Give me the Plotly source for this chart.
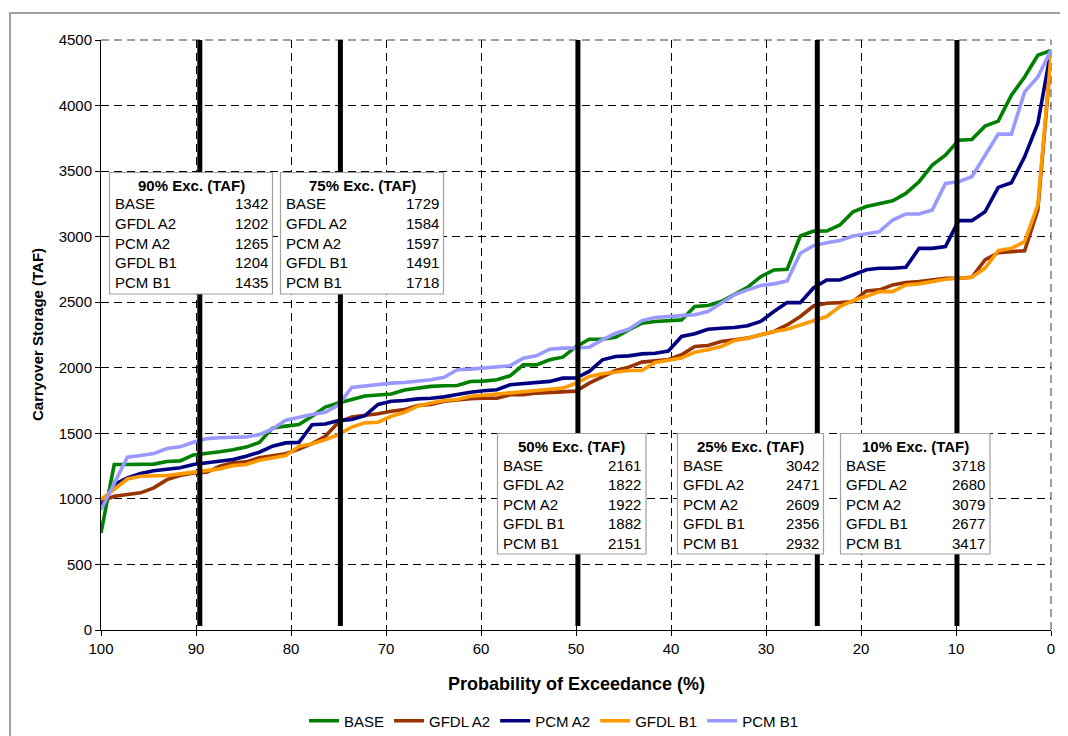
import plotly.graph_objects as go

# ---------------- data ----------------
n_years = 73
exceedance = [100 - r * 100 / (n_years - 1) for r in range(n_years)]

base = [740, 1262, 1262, 1262, 1265, 1285, 1290, 1335, 1345, 1360, 1375, 1395, 1430, 1540, 1555,
        1567, 1630, 1700, 1732, 1760, 1785, 1792, 1800, 1830, 1845, 1858, 1863, 1865, 1895, 1898,
        1908, 1939, 2022, 2022, 2061, 2081, 2161, 2218, 2218, 2233, 2289, 2340, 2353, 2360, 2365,
        2467, 2475, 2505, 2556, 2614, 2695, 2746, 2751, 3005, 3042, 3043, 3089, 3190, 3230, 3254,
        3274, 3330, 3419, 3546, 3622, 3736, 3741, 3843, 3881, 4079, 4218, 4383, 4421]

gfdl_a2 = [982, 1020, 1033, 1046, 1084, 1147, 1178, 1198, 1203, 1249, 1275, 1282, 1313, 1331, 1345,
           1380, 1421, 1477, 1584, 1625, 1635, 1650, 1668, 1681, 1712, 1720, 1745, 1758, 1765, 1768,
           1768, 1794, 1794, 1807, 1812, 1819, 1822, 1883, 1934, 1979, 2005, 2043, 2053, 2063, 2099,
           2162, 2170, 2200, 2213, 2226, 2251, 2277, 2327, 2391, 2471, 2492, 2497, 2505, 2585, 2594,
           2632, 2650, 2657, 2670, 2683, 2683, 2690, 2822, 2878, 2886, 2893, 3203, 4370]

pcm_a2 = [940, 1109, 1160, 1193, 1214, 1224, 1237, 1262, 1275, 1282, 1300, 1326, 1356, 1402, 1427,
          1431, 1566, 1571, 1597, 1605, 1635, 1720, 1745, 1750, 1763, 1768, 1778, 1796, 1814, 1825,
          1832, 1870, 1878, 1888, 1896, 1921, 1922, 1972, 2061, 2086, 2091, 2106, 2111, 2128, 2239,
          2259, 2294, 2302, 2307, 2320, 2353, 2429, 2497, 2497, 2609, 2670, 2670, 2708, 2748, 2759,
          2759, 2766, 2911, 2911, 2924, 3122, 3122, 3190, 3376, 3411, 3609, 3863, 4421]

gfdl_b1 = [995, 1071, 1152, 1173, 1173, 1178, 1191, 1203, 1211, 1229, 1254, 1262, 1295, 1313, 1330,
           1400, 1421, 1451, 1491, 1548, 1580, 1585, 1630, 1661, 1707, 1732, 1750, 1758, 1783, 1790,
           1799, 1807, 1814, 1827, 1837, 1845, 1882, 1934, 1954, 1964, 1979, 1979, 2040, 2058, 2074,
           2119, 2137, 2162, 2208, 2226, 2251, 2277, 2294, 2325, 2356, 2391, 2467, 2513, 2545, 2581,
           2581, 2632, 2640, 2657, 2675, 2683, 2690, 2759, 2893, 2911, 2962, 3241, 4383]

pcm_b1 = [918, 1122, 1318, 1331, 1346, 1384, 1397, 1432, 1460, 1466, 1470, 1473, 1490, 1534, 1600,
          1623, 1643, 1661, 1718, 1850, 1862, 1875, 1883, 1888, 1900, 1908, 1928, 1985, 1990, 1997,
          2010, 2015, 2073, 2091, 2142, 2150, 2151, 2157, 2213, 2264, 2294, 2360, 2383, 2393, 2398,
          2404, 2429, 2492, 2556, 2594, 2627, 2640, 2662, 2873, 2932, 2954, 2970, 3005, 3019, 3038,
          3127, 3173, 3173, 3203, 3406, 3419, 3457, 3614, 3782, 3782, 4104, 4218, 4421]

series_names = ["BASE", "GFDL A2", "PCM A2", "GFDL B1", "PCM B1"]
series_values = [base, gfdl_a2, pcm_a2, gfdl_b1, pcm_b1]
series_colors = ["#008000", "#993300", "#000080", "#FF9900", "#9999FF"]

# marker lines at exceedance levels
marker_levels = [89.6, 74.8, 49.8, 24.6, 9.9]
marker_low, marker_high = 30, 4500

# summary tables
table_titles = ["90% Exc. (TAF)", "75% Exc. (TAF)", "50% Exc. (TAF)", "25% Exc. (TAF)", "10% Exc. (TAF)"]
table_values = [
    [1342, 1202, 1265, 1204, 1435],
    [1729, 1584, 1597, 1491, 1718],
    [2161, 1822, 1922, 1882, 2151],
    [3042, 2471, 2609, 2356, 2932],
    [3718, 2680, 3079, 2677, 3417],
]

x_ticks = [100, 90, 80, 70, 60, 50, 40, 30, 20, 10, 0]
y_ticks = [0, 500, 1000, 1500, 2000, 2500, 3000, 3500, 4000, 4500]

# ---------------- layout geometry ----------------
# page body has an 8px margin; figure is offset by it
OFF = 8
W, H = 1068 - OFF, 736 - OFF
L, R, T, B = 101, 1051, 40, 630   # plot area in page pixels


def fx(px):
    return (px - L) / (R - L)


def fy(py):
    return (B - py) / (B - T)


table_boxes = [
    (109.5, 172.5, 272.5, 294),
    (280.5, 172.5, 443.5, 294),
    (497.5, 433.5, 646, 554),
    (677.5, 433.5, 823.5, 554),
    (840.5, 433.5, 990, 554),
]

FONT = "Arial, 'Liberation Sans', sans-serif"
FS = 15

fig = go.Figure()

for name, vals, col in zip(series_names, series_values, series_colors):
    fig.add_trace(go.Scatter(x=exceedance, y=vals, mode="lines", name=name,
                             line=dict(color=col, width=3.6)))

for lvl in marker_levels:
    fig.add_trace(go.Scatter(x=[lvl, lvl], y=[marker_low, marker_high], mode="lines",
                             showlegend=False, hoverinfo="skip",
                             line=dict(color="#000000", width=5)))

shapes = []
annotations = []

# outer chart frame
shapes.append(dict(type="rect", xref="paper", yref="paper",
                   x0=fx(10), x1=fx(1065), y0=fy(13), y1=fy(760),
                   line=dict(color="#A0A0A0", width=2), fillcolor="rgba(0,0,0,0)",
                   layer="below"))

# grey dashed plot-area border at top and right (over the black grid there)
for sx0, sy0, sx1, sy1 in [(0, 1, 1, 1), (1, 0, 1, 1)]:
    shapes.append(dict(type="line", xref="paper", yref="paper", x0=sx0, y0=sy0, x1=sx1, y1=sy1,
                       line=dict(color="white", width=2), layer="between"))
    shapes.append(dict(type="line", xref="paper", yref="paper", x0=sx0, y0=sy0, x1=sx1, y1=sy1,
                       line=dict(color="#808080", width=1.5, dash="8px,5px"), layer="between"))

for (x0, y0, x1, y1), title, vals in zip(table_boxes, table_titles, table_values):
    shapes.append(dict(type="rect", xref="paper", yref="paper",
                       x0=fx(x0), x1=fx(x1), y0=fy(y0), y1=fy(y1),
                       line=dict(color="#A0A0A0", width=1.2), fillcolor="white",
                       layer="above"))
    annotations.append(dict(xref="paper", yref="paper", x=fx((x0 + x1) / 2), y=fy(y0 + 12.5),
                            text="<b>" + title + "</b>", showarrow=False,
                            xanchor="center", yanchor="middle",
                            font=dict(family=FONT, size=FS, color="black")))
    for k, (nm, v) in enumerate(zip(series_names, vals)):
        yy = fy(y0 + 31.5 + 19.5 * k)
        annotations.append(dict(xref="paper", yref="paper", x=fx(x0 + 3), y=yy,
                                text=nm, showarrow=False, xanchor="left", yanchor="middle",
                                font=dict(family=FONT, size=FS, color="black")))
        annotations.append(dict(xref="paper", yref="paper", x=fx(x1 - 3), y=yy,
                                text=str(v), showarrow=False, xanchor="right", yanchor="middle",
                                font=dict(family=FONT, size=FS, color="black")))

# axis titles
annotations.append(dict(xref="paper", yref="paper", x=fx(576), y=fy(684),
                        text="<b>Probability of Exceedance (%)</b>", showarrow=False,
                        xanchor="center", yanchor="middle",
                        font=dict(family=FONT, size=18, color="black")))
annotations.append(dict(xref="paper", yref="paper", x=fx(37), y=fy(335),
                        text="<b>Carryover Storage (TAF)</b>", showarrow=False, textangle=-90,
                        xanchor="center", yanchor="middle",
                        font=dict(family=FONT, size=15, color="black")))

fig.update_layout(
    width=W, height=H,
    margin=dict(l=L - OFF, r=W - (R - OFF), t=T - OFF, b=H - (B - OFF), pad=0,
                autoexpand=False),
    paper_bgcolor="white", plot_bgcolor="white",
    font=dict(family=FONT, size=FS, color="black"),
    shapes=shapes, annotations=annotations,
    legend=dict(orientation="h", x=fx(554), xanchor="center", y=fy(721), yanchor="middle",
                font=dict(family=FONT, size=FS, color="black"), bgcolor="rgba(0,0,0,0)",
                itemwidth=30),
    xaxis=dict(range=[100, 0], tickvals=x_ticks, ticks="outside", ticklen=5, tickcolor="black",
               showline=True, linecolor="black", linewidth=1, zeroline=False, automargin=False,
               showgrid=True, gridcolor="#000000", gridwidth=1, griddash="8px,5px",
               tickfont=dict(family=FONT, size=FS, color="black")),
    yaxis=dict(range=[0, 4500], tickvals=y_ticks, ticks="outside", ticklen=5, tickcolor="black",
               showline=True, linecolor="black", linewidth=1, zeroline=False, automargin=False,
               showgrid=True, gridcolor="#000000", gridwidth=1, griddash="8px,5px",
               tickfont=dict(family=FONT, size=FS, color="black")),
    showlegend=True,
)

fig.write_html("out.html")
